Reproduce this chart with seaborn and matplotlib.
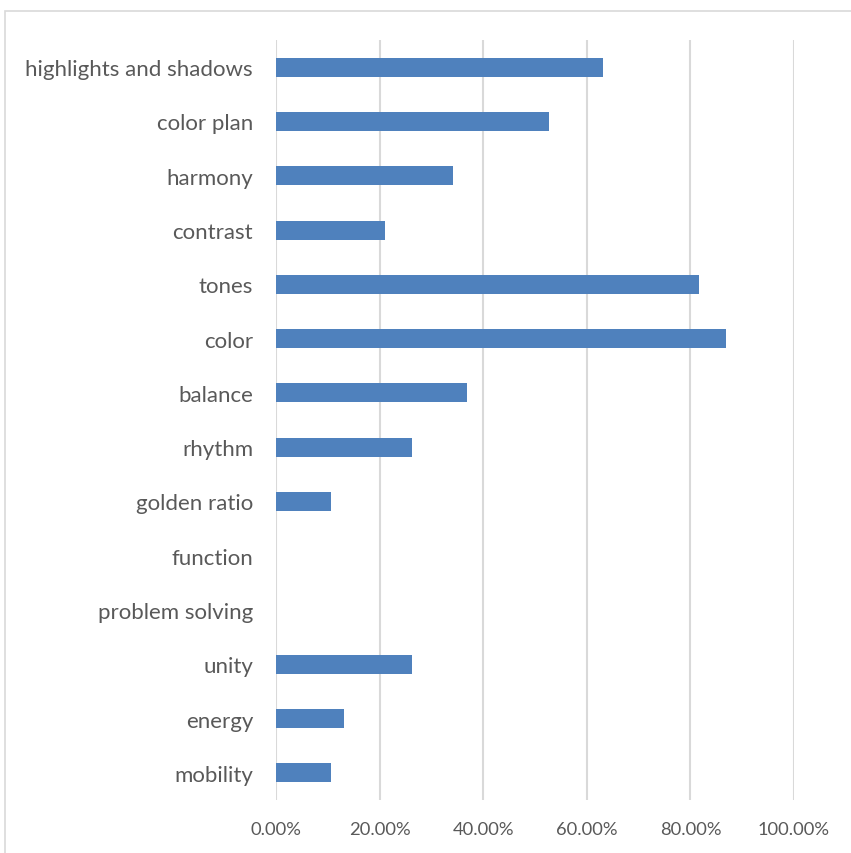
import matplotlib
matplotlib.use("Agg")
import matplotlib.pyplot as plt
import seaborn as sns
import pandas as pd
from matplotlib.ticker import FuncFormatter
from matplotlib.patches import Rectangle

categories = ["highlights and shadows", "color plan", "harmony", "contrast", "tones",
              "color", "balance", "rhythm", "golden ratio", "function",
              "problem solving", "unity", "energy", "mobility"]
values = [0.6316, 0.5263, 0.3421, 0.2105, 0.8158,
          0.8684, 0.3684, 0.2632, 0.1053, 0.0,
          0.0, 0.2632, 0.1316, 0.1053]
tick_values = [0.0, 0.2, 0.4, 0.6, 0.8, 1.0]

df = pd.DataFrame({"category": categories, "value": values})

sns.set_theme(style="white")
plt.rcParams["font.family"] = ["Lato", "DejaVu Sans"]

W, H = 851, 854
fig = plt.figure(figsize=(W / 100, H / 100), dpi=100)
ax = fig.add_axes([276 / W, 1 - 801 / H, (794 - 276) / W, (801 - 41) / H])

sns.barplot(data=df, y="category", x="value", orient="h", color="#4F81BD",
            width=0.35, saturation=1, edgecolor="none", ax=ax)

ax.set_xlim(0, 1.0)
ax.set_xticks(tick_values)
ax.xaxis.set_major_formatter(FuncFormatter(lambda v, p: f"{v * 100:.2f}%"))
ax.grid(axis="x", color="#D9D9D9", linewidth=1.5)
ax.set_axisbelow(True)
for s in ax.spines.values():
    s.set_visible(False)
ax.set_xlabel("")
ax.set_ylabel("")
ax.tick_params(axis="y", length=0, pad=16.5, labelsize=16, labelcolor="#595959")
ax.tick_params(axis="x", length=0, pad=15, labelsize=13.2, labelcolor="#595959")

# outer chart frame (cropped on right and bottom)
fig.patches.append(Rectangle((5 / W, -0.1), 1.0, 1 - 11.5 / H + 0.1,
                             transform=fig.transFigure, fill=False,
                             edgecolor="#D9D9D9", linewidth=1.2))

fig.savefig("out.png", dpi=100, facecolor="white")
